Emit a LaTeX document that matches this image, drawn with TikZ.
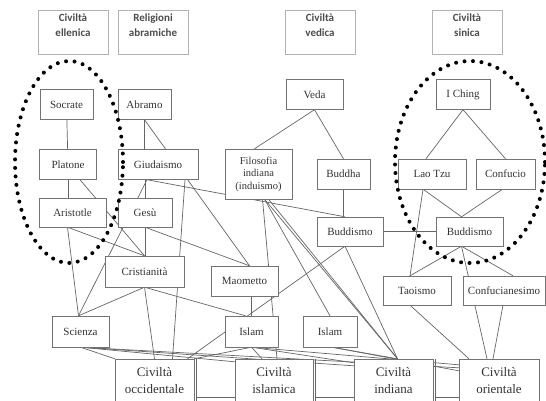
\documentclass[tikz,border=0pt]{standalone}
\usepackage{fontspec}
\setmainfont{Liberation Serif}
\newfontfamily\headfont{Carlito}
\usetikzlibrary{backgrounds}

\newcommand{\headlbl}[2]{\raisebox{6pt}[\height][\depth]{\begin{tabular}{@{}c@{}}#1\\#2\end{tabular}}}

\tikzset{
  head/.style={draw=black!30, fill=white, minimum width=70pt, minimum height=44pt,
    inner sep=0pt, text=black!70, font=\headfont\bfseries\fontsize{11}{15}\selectfont},
  item/.style={draw=black!55, fill=white, minimum height=30pt, inner sep=1pt,
    align=center, text=black!80, font=\fontsize{11}{13}\selectfont},
  civ/.style={item, minimum height=44pt, font=\fontsize{13}{17}\selectfont},
  link/.style={draw=black!60, line width=0.7pt},
  ring/.style={draw=black, line width=4pt, dash pattern=on 0pt off 8.5pt, line cap=round}
}

\begin{document}
\begin{tikzpicture}[x=1pt, y=-1pt]
\useasboundingbox (0,0) rectangle (546,401);
\clip (0,0) rectangle (546,401);

\node [head] (hell) at (73,32) {\headlbl{Civiltà}{ellenica}};
\node [head] (habr) at (153,32) {\headlbl{Religioni}{abramiche}};
\node [head] (hved) at (320,32) {\headlbl{Civiltà}{vedica}};
\node [head] (hsin) at (467,32) {\headlbl{Civiltà}{sinica}};

\node [item, minimum width=53pt] (socrate) at (66.5,104.5) {Socrate};
\node [item, minimum width=53pt] (abramo) at (144.5,104.5) {Abramo};
\node [item, minimum width=57pt] (veda) at (314.5,94.5) {Veda};
\node [item, minimum width=54pt] (iching) at (463,94.5) {I Ching};
\node [item, minimum width=57pt] (platone) at (68,164.5) {Platone};
\node [item, minimum width=80pt] (giudaismo) at (158,164.5) {Giudaismo};
\node [item, minimum width=67pt, minimum height=50pt, font=\fontsize{10.5}{12.5}\selectfont]
  (filosofia) at (258.5,174) {Filosofia\\indiana\\(induismo)};
\node [item, minimum width=53pt] (buddha) at (343.5,174) {Buddha};
\node [item, minimum width=68pt] (laotzu) at (432,174) {Lao Tzu};
\node [item, minimum width=59pt] (confucio) at (505.5,174) {Confucio};
\node [item, minimum width=67pt, minimum height=29pt] (aristotle) at (72.5,212.5) {Aristotle};
\node [item, minimum width=54pt, minimum height=29pt] (gesu) at (145,212.5) {Gesù};
\node [item, minimum width=66pt, minimum height=29pt] (buddismoM) at (350,231.5) {Buddismo};
\node [item, minimum width=67pt, minimum height=29pt] (buddismoR) at (469.5,231.5) {Buddismo};
\node [item, minimum width=79pt, minimum height=31pt] (cristianita) at (144.5,271.5) {Cristianità};
\node [item, minimum width=67pt] (maometto) at (244.5,281) {Maometto};
\node [item, minimum width=68pt, minimum height=29pt] (taoismo) at (417,290.5) {Taoismo};
\node [item, minimum width=82pt, minimum height=29pt] (confucianesimo) at (504,290.5) {Confucianesimo};
\node [item, minimum width=57pt, minimum height=31pt] (scienza) at (80.5,331.5) {Scienza};
\node [item, minimum width=53pt, minimum height=31pt] (islam1) at (251.5,331.5) {Islam};
\node [item, minimum width=54pt, minimum height=31pt] (islam2) at (330,331.5) {Islam};

\node [civ, minimum width=79pt] (civocc) at (154.5,381) {Civiltà\\occidentale};
\node [civ, minimum width=78pt] (civisl) at (274,381) {Civiltà\\islamica};
\node [civ, minimum width=79pt] (civind) at (393.5,381) {Civiltà\\indiana};
\node [civ, minimum width=80pt] (civori) at (499,381) {Civiltà\\orientale};

\begin{pgfonlayer}{background}
\fill [white] (0,0) rectangle (546,401);
\draw [link] (socrate) -- (platone);
\draw [link] (platone.south) -- (platone.south |- aristotle.north);
\draw [link] ([xshift=12]platone.south) -- (cristianita.north);
\draw [link] ([xshift=-5]aristotle.south) -- ([xshift=-2]scienza.north);
\draw [link] ([xshift=-5]aristotle.south) -- (cristianita.north);
\draw [link] (abramo.south) -- (abramo.south |- giudaismo.north);
\draw [link] (abramo.south) -- ([xshift=5]maometto.north);
\draw [link] (gesu.north |- giudaismo.south) -- (gesu.north);
\draw [link] (gesu.south) -- (gesu.south |- cristianita.north);
\draw [link] (gesu.south) -- ([xshift=5]maometto.north);
\draw [link] ([xshift=-11]giudaismo.south) -- ([xshift=-2]scienza.north);
\draw [link] ([xshift=27]giudaismo.south) -- ([xshift=18]civocc.north);
\draw [link] ([xshift=-11]giudaismo.south) -- ([xshift=-5]buddismoM.north);
\draw [link] (veda.south) -- ([xshift=-4]filosofia.north);
\draw [link] (veda.south) -- (buddha.north);
\draw [link] (buddha.south) -- (buddha.south |- buddismoM.north);
\draw [link] ([xshift=4]filosofia.south) -- ([xshift=3]civisl.north);
\draw [link] ([xshift=6]filosofia.south) -- (islam2.north);
\draw [link] ([xshift=6]filosofia.south) -- ([xshift=4]civind.north);
\draw [link] ([xshift=10]filosofia.south) -- ([xshift=4]civind.north);
\draw [link] ([xshift=-5]buddismoM.south) -- ([xshift=33]civocc.north);
\draw [link] ([xshift=-5]buddismoM.south) -- ([xshift=4]civind.north);
\draw [link] (buddismoM) -- (buddismoR);
\draw [link] (iching.south) -- ([xshift=-6]laotzu.north);
\draw [link] (iching.south) -- (confucio.north);
\draw [link] ([xshift=-9]laotzu.south) -- ([xshift=-8]buddismoR.north);
\draw [link] ([xshift=-3]confucio.south) -- ([xshift=-8]buddismoR.north);
\draw [link] ([xshift=-9]laotzu.south) -- ([xshift=-7]taoismo.north);
\draw [link] ([xshift=-8]buddismoR.south) -- ([xshift=-7]taoismo.north);
\draw [link] ([xshift=-8]buddismoR.south) -- ([xshift=9]confucianesimo.north);
\draw [link] ([xshift=-8]buddismoR.south) -- ([xshift=-12]civori.north);
\draw [link] ([xshift=-1]confucianesimo.south) -- ([xshift=-6]civori.north);
\draw [link] ([xshift=-7]taoismo.south) -- ([xshift=-30]civori.north);
\draw [link] (cristianita.south) -- ([xshift=-2]scienza.north);
\draw [link] (cristianita.south) -- (civocc.north);
\draw [link] (cristianita.south) -- ([xshift=-6]islam1.north);
\draw [link] (islam1.north |- maometto.south) -- (islam1.north);
\draw [link] (scienza.south) -- (civocc.north west);
\draw [link] (scienza.south) -- ([yshift=-3]civisl.north west);
\draw [link] (scienza.south) -- ([yshift=-7]civind.north west);
\draw [link] (scienza.south) -- ([yshift=-9]civori.north west);
\draw [link] (islam1.south) -- (civocc.north east);
\draw [link] (islam1.south) -- ([xshift=-12]civisl.north);
\draw [link] (islam1.south) -- ([yshift=-4]civind.north west);
\draw [link] (islam1.south) -- ([yshift=-6]civori.north west);
\draw [link] ([xshift=2]islam2.south) -- ([xshift=4]civind.north);
\draw [link] ([xshift=2]islam2.south) -- ([yshift=-12]civori.north west);
\draw [link] ([xshift=2]civocc.north east) -- ([xshift=2]civocc.south east);
\draw [link] ([xshift=2,yshift=6]civocc.south east) -- ([yshift=6]civisl.south west);
\draw [link] ([xshift=2]civisl.north east) -- ([xshift=2]civisl.south east);
\draw [link] ([xshift=2,yshift=6]civisl.south east) -- ([yshift=6]civind.south west);
\draw [link] ([xshift=2]civind.north east) -- ([xshift=2]civind.south east);
\draw [link] ([xshift=2,yshift=6]civind.south east) -- ([yshift=6]civori.south west);
\end{pgfonlayer}

\draw [ring] (69,162) ellipse [x radius=54pt, y radius=101pt];
\draw [ring] (470,162) ellipse [x radius=75pt, y radius=101pt];
\end{tikzpicture}
\end{document}
